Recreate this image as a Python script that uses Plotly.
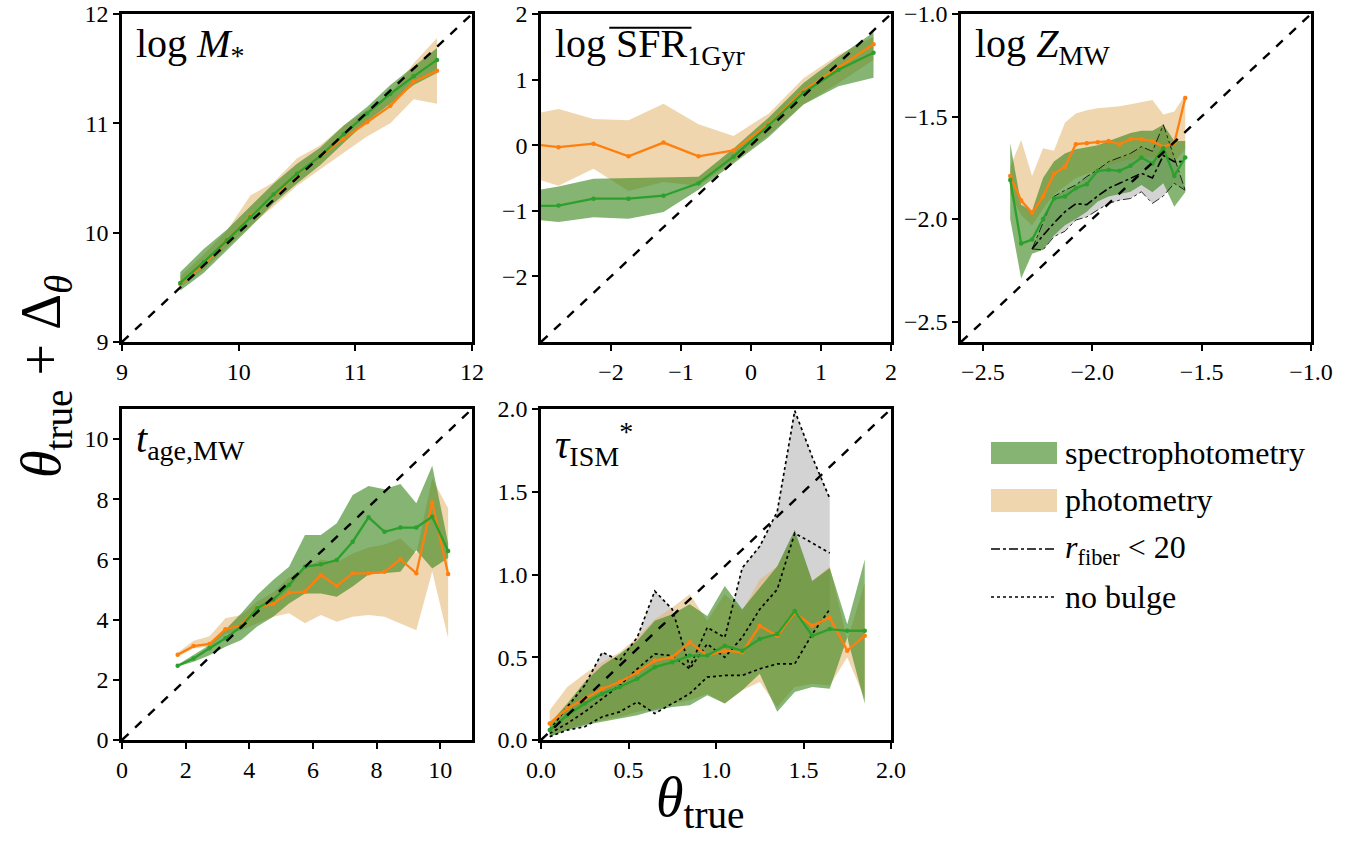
import plotly.graph_objects as go

W, H = 1361, 848
FONT = "Liberation Serif"


def fx(px):
    return px / W


def fy(py):
    return 1 - py / H


# ---------------- data ----------------
# Panel 1: log M*
m_x = [9.5, 9.7, 9.9, 10.1, 10.3, 10.5, 10.7, 10.9, 11.1, 11.3, 11.5, 11.7]
m_spec_med = [9.54, 9.73, 9.93, 10.14, 10.35, 10.54, 10.70, 10.90, 11.09, 11.27, 11.43, 11.58]
m_spec_lo = [9.47, 9.63, 9.84, 10.05, 10.27, 10.45, 10.62, 10.82, 11.02, 11.18, 11.35, 11.46]
m_spec_hi = [9.64, 9.85, 10.03, 10.24, 10.45, 10.63, 10.78, 10.98, 11.15, 11.35, 11.52, 11.69]
m_phot_med = [9.53, 9.71, 9.93, 10.15, 10.34, 10.53, 10.70, 10.86, 11.01, 11.16, 11.38, 11.48]
m_phot_lo = [9.50, 9.66, 9.87, 10.06, 10.24, 10.43, 10.58, 10.73, 10.88, 11.00, 11.22, 11.18]
m_phot_hi = [9.60, 9.80, 10.02, 10.34, 10.46, 10.68, 10.80, 10.98, 11.12, 11.27, 11.55, 11.78]

# Panel 2: log SFR_1Gyr
s_x = [-3.25, -2.75, -2.25, -1.75, -1.25, -0.75, -0.25, 0.25, 0.75, 1.25, 1.75]
s_spec_med = [-0.93, -0.92, -0.815, -0.815, -0.77, -0.58, -0.175, 0.30, 0.80, 1.15, 1.41]
s_spec_lo = [-1.12, -1.17, -1.10, -1.12, -1.02, -0.68, -0.28, 0.12, 0.62, 0.90, 1.03]
s_spec_hi = [-0.72, -0.63, -0.51, -0.50, -0.49, -0.48, -0.05, 0.42, 0.95, 1.35, 1.72]
s_phot_med = [0.03, -0.03, 0.023, -0.17, 0.04, -0.17, -0.08, 0.32, 0.83, 1.18, 1.54]
s_phot_lo = [-0.45, -0.62, -0.36, -0.70, -0.56, -0.62, -0.25, 0.15, 0.62, 0.95, 1.30]
s_phot_hi = [0.45, 0.55, 0.40, 0.38, 0.63, 0.32, 0.14, 0.48, 1.02, 1.38, 1.65]

# Panel 3: log Z_MW
z_x = [-2.375, -2.325, -2.275, -2.225, -2.175, -2.125, -2.075, -2.025, -1.975,
       -1.925, -1.875, -1.825, -1.775, -1.725, -1.675, -1.625, -1.575]
z_spec_med = [-1.81, -2.12, -2.10, -2.00, -1.90, -1.89, -1.85, -1.83, -1.765,
              -1.76, -1.765, -1.74, -1.70, -1.73, -1.655, -1.79, -1.70]
z_spec_lo = [-2.00, -2.29, -2.17, -2.15, -2.08, -2.03, -2.00, -1.965, -1.915,
             -1.89, -1.88, -1.867, -1.834, -1.87, -1.826, -1.94, -1.87]
z_spec_hi = [-1.63, -1.93, -1.96, -1.80, -1.72, -1.68, -1.66, -1.65, -1.64,
             -1.62, -1.60, -1.58, -1.57, -1.57, -1.54, -1.62, -1.62]
z_phot_med = [-1.79, -1.91, -1.97, -1.89, -1.78, -1.745, -1.635, -1.63, -1.626,
              -1.62, -1.636, -1.61, -1.61, -1.62, -1.647, -1.63, -1.41]
z_phot_lo = [-1.88, -1.98, -2.03, -1.95, -1.88, -1.84, -1.80, -1.78, -1.76,
             -1.74, -1.72, -1.71, -1.70, -1.70, -1.70, -1.72, -1.66]
z_phot_hi = [-1.745, -1.615, -1.79, -1.655, -1.667, -1.53, -1.485, -1.47, -1.46,
             -1.455, -1.45, -1.44, -1.43, -1.42, -1.49, -1.475, -1.395]
zf_x = z_x[2:]
zf_med = [-2.146, -2.08, -2.02, -1.965, -1.925, -1.93, -1.888, -1.85, -1.826,
          -1.80, -1.777, -1.80, -1.69, -1.72, -1.72]
zf_lo = [-2.146, -2.151, -2.086, -2.06, -2.005, -1.99, -1.956, -1.924, -1.908,
         -1.90, -1.867, -1.924, -1.888, -1.826, -1.86]
zf_hi = [-2.146, -2.02, -1.89, -1.86, -1.834, -1.793, -1.76, -1.72, -1.70,
         -1.68, -1.647, -1.67, -1.54, -1.70, -1.86]

# Panel 4: t_age,MW
a_x = [1.75, 2.25, 2.75, 3.25, 3.75, 4.25, 4.75, 5.25, 5.75, 6.25, 6.75, 7.25,
       7.75, 8.25, 8.75, 9.25, 9.75, 10.25]
a_spec_med = [2.47, 2.71, 3.05, 3.38, 3.77, 4.38, 4.67, 5.15, 5.76, 5.84, 5.98, 6.59,
              7.40, 6.92, 7.06, 7.06, 7.42, 6.28]
a_spec_lo = [2.44, 2.60, 2.82, 3.10, 3.32, 3.77, 4.10, 4.54, 4.87, 4.87, 4.76, 5.10,
             5.50, 5.54, 5.59, 6.31, 5.70, 6.05]
a_spec_hi = [2.50, 2.82, 3.16, 3.66, 4.21, 4.82, 5.32, 5.76, 6.81, 6.81, 7.20, 8.14,
             8.44, 8.33, 8.51, 7.87, 9.11, 6.54]
a_phot_med = [2.835, 3.12, 3.19, 3.68, 3.82, 4.41, 4.52, 4.90, 4.93, 5.48, 5.12, 5.54,
              5.54, 5.59, 6.01, 5.54, 7.89, 5.52]
a_phot_lo = [2.77, 3.05, 3.10, 3.54, 3.65, 3.88, 4.10, 4.21, 3.88, 4.15, 3.93, 4.10,
             4.15, 4.10, 3.88, 3.65, 5.60, 3.38]
a_phot_hi = [2.90, 3.30, 3.45, 4.05, 4.15, 4.60, 4.90, 5.40, 5.70, 6.00, 5.90, 6.20,
             6.40, 6.50, 6.70, 6.20, 8.70, 7.70]

# Panel 5: tau_ISM
t_x = [0.05, 0.15, 0.25, 0.35, 0.45, 0.55, 0.65, 0.75, 0.85, 0.95, 1.05, 1.15,
       1.25, 1.35, 1.45, 1.55, 1.65, 1.75, 1.85]
t_spec_med = [0.06, 0.15, 0.22, 0.28, 0.32, 0.37, 0.44, 0.47, 0.51, 0.51, 0.57, 0.54,
              0.61, 0.64, 0.78, 0.63, 0.67, 0.66, 0.66]
t_spec_lo = [0.02, 0.06, 0.09, 0.11, 0.13, 0.15, 0.18, 0.20, 0.21, 0.27, 0.22, 0.30,
             0.40, 0.17, 0.29, 0.32, 0.31, 0.62, 0.22]
t_spec_hi = [0.10, 0.22, 0.35, 0.45, 0.52, 0.60, 0.72, 0.76, 0.82, 0.75, 0.93, 0.79,
             0.92, 1.05, 1.27, 0.96, 1.04, 0.70, 1.09]
t_phot_med = [0.10, 0.19, 0.25, 0.31, 0.35, 0.41, 0.48, 0.50, 0.59, 0.51, 0.54, 0.53,
              0.69, 0.63, 0.77, 0.69, 0.74, 0.54, 0.63]
t_phot_lo = [0.03, 0.07, 0.10, 0.12, 0.14, 0.17, 0.19, 0.22, 0.24, 0.28, 0.22, 0.30,
             0.35, 0.20, 0.32, 0.34, 0.33, 0.50, 0.25]
t_phot_hi = [0.18, 0.32, 0.40, 0.47, 0.53, 0.62, 0.73, 0.80, 0.88, 0.72, 0.88, 0.78,
             0.97, 1.05, 1.25, 0.96, 1.05, 0.60, 0.95]
tb_x = t_x[:17]
tb_med = [0.04, 0.10, 0.17, 0.25, 0.33, 0.43, 0.52, 0.51, 0.43, 0.58, 0.50, 0.62,
          0.79, 0.91, 1.25, 1.19, 1.13]
tb_lo = [0.02, 0.06, 0.08, 0.14, 0.17, 0.23, 0.16, 0.22, 0.28, 0.38, 0.39, 0.39,
         0.43, 0.46, 0.46, 0.64, 0.79]
tb_hi = [0.06, 0.20, 0.33, 0.53, 0.48, 0.62, 0.90, 0.79, 0.44, 0.68, 0.62, 1.04,
         1.17, 1.38, 1.99, 1.71, 1.46]

legend_labels = ["spectrophotometry", "photometry",
                 "<i>r</i><sub>fiber</sub> < 20", "no bulge"]

# ---------------- styles ----------------
GREEN_FILL = "rgba(52,130,22,0.6)"
TAN_FILL = "rgba(225,180,110,0.55)"
GRAY_FILL = "rgba(175,175,175,0.55)"
GREEN = "#2ca02c"
ORANGE = "#ff7f0e"

fig = go.Figure()


def band(x, lo, hi, color, ax):
    xa, ya = ax
    fig.add_trace(go.Scatter(x=list(x) + list(x)[::-1], y=list(hi) + list(lo)[::-1],
                             fill="toself", fillcolor=color, mode="lines",
                             line=dict(width=0), hoverinfo="skip", showlegend=False,
                             xaxis=xa, yaxis=ya))


def med(x, y, color, ax):
    xa, ya = ax
    fig.add_trace(go.Scatter(x=x, y=y, mode="lines+markers",
                             line=dict(color=color, width=2.3),
                             marker=dict(color=color, size=4.5),
                             showlegend=False, xaxis=xa, yaxis=ya))


def dline(x, y, dash, width, ax):
    xa, ya = ax
    fig.add_trace(go.Scatter(x=x, y=y, mode="lines",
                             line=dict(color="black", width=width, dash=dash),
                             showlegend=False, xaxis=xa, yaxis=ya))


panels = [
    dict(ax=("x", "y"), px=(122, 472), py=(14, 342), rng=(9, 12),
         ticks=[9, 10, 11, 12], fmt="{:d}"),
    dict(ax=("x2", "y2"), px=(541, 891), py=(14, 342), rng=(-3, 2),
         ticks=[-2, -1, 0, 1, 2], fmt="{:d}"),
    dict(ax=("x3", "y3"), px=(961, 1311), py=(14, 342), rng=(-2.6, -1.0),
         ticks=[-2.5, -2.0, -1.5, -1.0], fmt="{:.1f}"),
    dict(ax=("x4", "y4"), px=(122, 472), py=(409, 740), rng=(0, 11),
         ticks=[0, 2, 4, 6, 8, 10], fmt="{:d}"),
    dict(ax=("x5", "y5"), px=(541, 891), py=(409, 740), rng=(0, 2),
         ticks=[0.0, 0.5, 1.0, 1.5, 2.0], fmt="{:.1f}"),
]

# gray (subsample) fills
band(zf_x, zf_lo, zf_hi, GRAY_FILL, panels[2]["ax"])
band(tb_x, tb_lo, tb_hi, GRAY_FILL, panels[4]["ax"])

data = [
    (m_x, m_spec_med, m_spec_lo, m_spec_hi, m_phot_med, m_phot_lo, m_phot_hi),
    (s_x, s_spec_med, s_spec_lo, s_spec_hi, s_phot_med, s_phot_lo, s_phot_hi),
    (z_x, z_spec_med, z_spec_lo, z_spec_hi, z_phot_med, z_phot_lo, z_phot_hi),
    (a_x, a_spec_med, a_spec_lo, a_spec_hi, a_phot_med, a_phot_lo, a_phot_hi),
    (t_x, t_spec_med, t_spec_lo, t_spec_hi, t_phot_med, t_phot_lo, t_phot_hi),
]

for p, d in zip(panels, data):
    x, sm, sl, sh, pm, pl, ph = d
    band(x, pl, ph, TAN_FILL, p["ax"])
    band(x, sl, sh, GREEN_FILL, p["ax"])

# subsample lines
dline(zf_x, zf_lo, "dashdot", 0.8, panels[2]["ax"])
dline(zf_x, zf_hi, "dashdot", 0.8, panels[2]["ax"])
dline(zf_x, zf_med, "dashdot", 1.6, panels[2]["ax"])
for arr in (tb_lo, tb_hi, tb_med):
    dline(tb_x, arr, "dot", 1.7, panels[4]["ax"])

for p, d in zip(panels, data):
    x, sm, sl, sh, pm, pl, ph = d
    med(x, pm, ORANGE, p["ax"])
    med(x, sm, GREEN, p["ax"])
    lo, hi = p["rng"]
    dline([lo, hi], [lo, hi], "dash", 2.4, p["ax"])

# axes
layout_axes = {}
for i, p in enumerate(panels):
    sfx = "" if i == 0 else str(i + 1)
    xa, ya = p["ax"]
    ticktext = [p["fmt"].format(v).replace("-", "\u2212") for v in p["ticks"]]
    common = dict(range=list(p["rng"]), tickvals=p["ticks"], ticktext=ticktext,
                  showline=True, linecolor="black", linewidth=2.5, mirror=True,
                  ticks="outside", ticklen=6, tickwidth=2, tickcolor="black",
                  showgrid=False, zeroline=False, automargin=False,
                  ticklabeloverflow="allow",
                  tickfont=dict(family=FONT, size=24, color="black"))
    layout_axes["xaxis" + sfx] = dict(common, domain=[fx(p["px"][0]), fx(p["px"][1])],
                                      anchor=ya)
    layout_axes["yaxis" + sfx] = dict(common, domain=[fy(p["py"][1]), fy(p["py"][0])],
                                      anchor=xa)

fig.update_layout(**layout_axes)

labels = ["log <i>M</i><sub>*</sub>", "log SFR<sub>1Gyr</sub>",
          "log <i>Z</i><sub>MW</sub>", "<i>t</i><sub>age,MW</sub>",
          "<i>τ</i><sub>ISM</sub><sup>*</sup>"]
annotations = []
for p, lab in zip(panels, labels):
    xa, ya = p["ax"]
    annotations.append(dict(text=lab, xref=xa + " domain", yref=ya + " domain",
                            x=0.035, y=0.985, xanchor="left", yanchor="top",
                            showarrow=False,
                            font=dict(family=FONT, size=40, color="black")))

annotations.append(dict(text="<i>θ</i><sub>true</sub> + Δ<sub><i>θ</i></sub>",
                        xref="paper", yref="paper", x=fx(45), y=fy(376),
                        xanchor="center", yanchor="middle",
                        textangle=-90, showarrow=False,
                        font=dict(family=FONT, size=56, color="black")))
annotations.append(dict(text="<i>θ</i><sub>true</sub>", xref="paper", yref="paper",
                        x=fx(700), y=fy(801), xanchor="center", yanchor="middle",
                        showarrow=False,
                        font=dict(family=FONT, size=56, color="black")))

# legend (drawn manually)
shapes = []
leg_rows = [453, 500, 549, 597]
shapes.append(dict(type="rect", xref="paper", yref="paper", x0=fx(991), x1=fx(1057),
                   y0=fy(464), y1=fy(442), fillcolor=GREEN_FILL, line=dict(width=0)))
shapes.append(dict(type="rect", xref="paper", yref="paper", x0=fx(991), x1=fx(1057),
                   y0=fy(512), y1=fy(489), fillcolor=TAN_FILL, line=dict(width=0)))
shapes.append(dict(type="line", xref="paper", yref="paper", x0=fx(991), x1=fx(1057),
                   y0=fy(leg_rows[2]), y1=fy(leg_rows[2]),
                   line=dict(color="black", width=1.4, dash="dashdot")))
shapes.append(dict(type="line", xref="paper", yref="paper", x0=fx(991), x1=fx(1057),
                   y0=fy(leg_rows[3]), y1=fy(leg_rows[3]),
                   line=dict(color="black", width=1.4, dash="dot")))
for lab, yy in zip(legend_labels, leg_rows):
    annotations.append(dict(text=lab, xref="paper", yref="paper", x=fx(1063),
                            y=fy(yy), xanchor="left", yanchor="middle",
                            showarrow=False,
                            font=dict(family=FONT, size=32, color="black")))

# overline for SFR
shapes.append(dict(type="line", xref="x2 domain", yref="y2 domain",
                   x0=0.195, x1=0.43, y0=0.958, y1=0.958,
                   line=dict(color="black", width=2)))

fig.update_layout(width=W, height=H, margin=dict(l=0, r=0, t=0, b=0),
                  paper_bgcolor="white", plot_bgcolor="white",
                  showlegend=False, annotations=annotations, shapes=shapes,
                  font=dict(family=FONT, color="black"))

fig.write_html("out.html", config={"displayModeBar": False},
               post_script="document.body.style.margin='0px';"
                           "document.documentElement.style.overflow='hidden';")
